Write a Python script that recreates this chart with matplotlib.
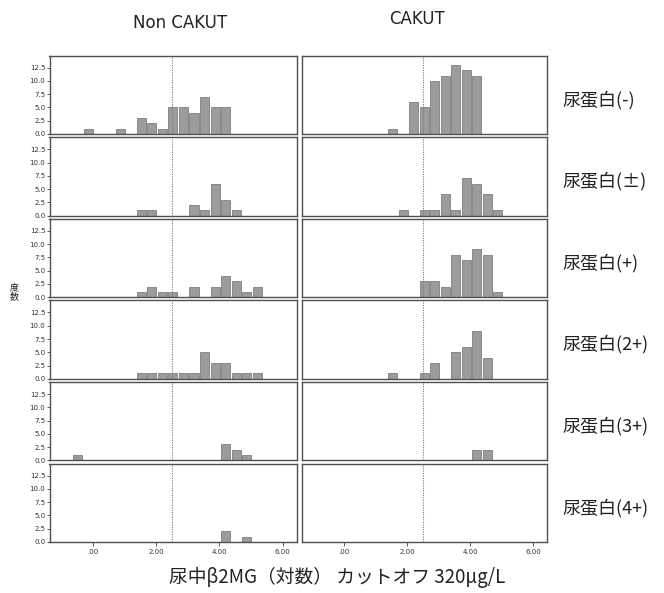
import numpy as np
import matplotlib
matplotlib.use('Agg')
import matplotlib.pyplot as plt

plt.rcParams['font.family'] = ['Noto Sans CJK JP', 'DejaVu Sans']

# histogram bin centers (log scale of urinary beta2MG)
bin_centers = [-0.467, -0.13, 0.203, 0.537, 0.87, 1.203, 1.537, 1.87, 2.203,
               2.537, 2.87, 3.203, 3.537, 3.87, 4.203, 4.537, 4.87, 5.203]
bin_width = 1 / 3
cutoff = np.log10(320)

col_titles = ['Non CAKUT', 'CAKUT']
row_labels = ['尿蛋白(-)', '尿蛋白(±)', '尿蛋白(+)', '尿蛋白(2+)', '尿蛋白(3+)', '尿蛋白(4+)']

noncakut_neg = [0, 1, 0, 0, 1, 0, 3, 2, 1, 5, 5, 4, 7, 5, 5, 0, 0, 0]
cakut_neg    = [0, 0, 0, 0, 0, 0, 1, 0, 6, 5, 10, 11, 13, 12, 11, 0, 0, 0]
noncakut_pm  = [0, 0, 0, 0, 0, 0, 1, 1, 0, 0, 0, 2, 1, 6, 3, 1, 0, 0]
cakut_pm     = [0, 0, 0, 0, 0, 0, 0, 1, 0, 1, 1, 4, 1, 7, 6, 4, 1, 0]
noncakut_p1  = [0, 0, 0, 0, 0, 0, 1, 2, 1, 1, 0, 2, 0, 2, 4, 3, 1, 2]
cakut_p1     = [0, 0, 0, 0, 0, 0, 0, 0, 0, 3, 3, 2, 8, 7, 9, 8, 1, 0]
noncakut_p2  = [0, 0, 0, 0, 0, 0, 1, 1, 1, 1, 1, 1, 5, 3, 3, 1, 1, 1]
cakut_p2     = [0, 0, 0, 0, 0, 0, 1, 0, 0, 1, 3, 0, 5, 6, 9, 4, 0, 0]
noncakut_p3  = [1, 0, 0, 0, 0, 0, 0, 0, 0, 0, 0, 0, 0, 0, 3, 2, 1, 0]
cakut_p3     = [0, 0, 0, 0, 0, 0, 0, 0, 0, 0, 0, 0, 0, 0, 2, 2, 0, 0]
noncakut_p4  = [0, 0, 0, 0, 0, 0, 0, 0, 0, 0, 0, 0, 0, 0, 2, 0, 1, 0]
cakut_p4     = [0, 0, 0, 0, 0, 0, 0, 0, 0, 0, 0, 0, 0, 0, 0, 0, 0, 0]

grid = [[noncakut_neg, cakut_neg], [noncakut_pm, cakut_pm], [noncakut_p1, cakut_p1],
        [noncakut_p2, cakut_p2], [noncakut_p3, cakut_p3], [noncakut_p4, cakut_p4]]

xticks = [0, 2, 4, 6]
xticklabels = ['.00', '2.00', '4.00', '6.00']
yticks = [0, 2.5, 5, 7.5, 10, 12.5]
yticklabels = ['0.0', '2.5', '5.0', '7.5', '10.0', '12.5']

W, H = 664, 593
fig = plt.figure(figsize=(W / 100, H / 100), dpi=100)

col_left = [49.5, 301.5]
col_width = [247.0, 245.5]
row_top0, row_step, row_h = 55.5, 81.6, 78.5

for r in range(6):
    top = row_top0 + r * row_step
    for c in range(2):
        ax = fig.add_axes([col_left[c] / W, 1 - (top + row_h) / H, col_width[c] / W, row_h / H])
        ax.bar(bin_centers, grid[r][c], width=bin_width * 0.86, color='#9c9c9c',
               edgecolor='#6e6e6e', linewidth=0.5)
        ax.axvline(cutoff, color='#777777', linestyle=(0, (1, 1.2)), linewidth=0.8)
        ax.set_xlim(-1.36, 6.44)
        ax.set_ylim(0, 14.8)
        for s in ax.spines.values():
            s.set_color('#505050')
            s.set_linewidth(1.0)
        if c == 0:
            ax.set_yticks(yticks)
            ax.set_yticklabels(yticklabels, fontsize=5, color='#333333', family='DejaVu Sans')
            ax.tick_params(axis='y', length=2, width=0.6, pad=1, color='#444444')
        else:
            ax.set_yticks([])
        if r == 5:
            ax.set_xticks(xticks)
            ax.set_xticklabels(xticklabels, fontsize=5, color='#333333', family='DejaVu Sans')
            ax.tick_params(axis='x', length=3, width=0.6, pad=2, color='#444444')
        else:
            ax.set_xticks([])
    fig.text(562 / W, 1 - (top + row_h / 2 + 5) / H, row_labels[r], fontsize=13,
             ha='left', va='center', color='#222222')

fig.text(180 / W, 1 - 22.5 / H, col_titles[0], fontsize=12, ha='center', va='center',
         family='DejaVu Sans', color='#222222')
fig.text(416.5 / W, 1 - 19 / H, col_titles[1], fontsize=12, ha='center', va='center',
         family='DejaVu Sans', color='#222222')

fig.text(14 / W, 1 - 292 / H, '度\n数', fontsize=6.5, ha='center', va='center',
         linespacing=1.0, color='#222222')

fig.text(337 / W, 1 - 577 / H, '尿中β2MG（対数） カットオフ 320μg/L', fontsize=13.5,
         ha='center', va='center', color='#222222')

fig.savefig('out.png', dpi=100, facecolor='white')
